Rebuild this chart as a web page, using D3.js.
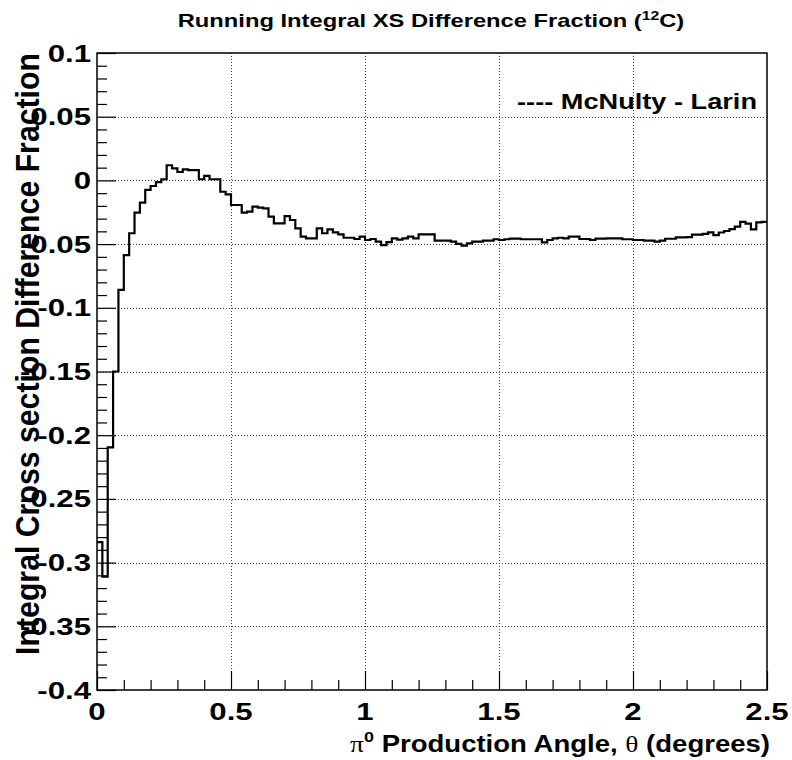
<!DOCTYPE html>
<html><head><meta charset="utf-8">
<script src="https://cdn.jsdelivr.net/npm/d3@7"></script>
<style>
html,body{margin:0;padding:0;background:#fff;}
svg{display:block;font-family:"Liberation Sans",Arial,Helvetica,sans-serif;}
</style></head>
<body>
<script>
// ---- data ----
const binWidth = 0.02; // degrees per bin, bins start at 0
const diffFraction = [
 -0.284,-0.311,-0.2095,-0.150,-0.086,-0.0586,-0.0415,-0.0253,-0.0175,-0.0075,
 -0.0044,-0.0013,0.0009,0.0119,0.0095,0.0066,0.0087,0.0081,0.0081,0.0009,
 0.0035,0.0009,0.0009,-0.0089,-0.0109,-0.0193,-0.0193,-0.0253,-0.0245,-0.0206,
 -0.0214,-0.0219,-0.0285,-0.0337,-0.0337,-0.0280,-0.0311,-0.0376,-0.0442,-0.0455,
 -0.0455,-0.0376,-0.0415,-0.0384,-0.0408,-0.0423,-0.0450,-0.0450,-0.0460,-0.0442,
 -0.0468,-0.0460,-0.0481,-0.0508,-0.0485,-0.0455,-0.0465,-0.0455,-0.0442,-0.0455,
 -0.0423,-0.0423,-0.0423,-0.0473,-0.0473,-0.0473,-0.0481,-0.0499,-0.0512,-0.0494,
 -0.0481,-0.0481,-0.0473,-0.0473,-0.0462,-0.0468,-0.0462,-0.0457,-0.0457,-0.0462,
 -0.0462,-0.0462,-0.0462,-0.0486,-0.0468,-0.0455,-0.0450,-0.0455,-0.0442,-0.0442,
 -0.0460,-0.0460,-0.0468,-0.0457,-0.0457,-0.0455,-0.0455,-0.0455,-0.0462,-0.0462,
 -0.0468,-0.0468,-0.0473,-0.0473,-0.0481,-0.0472,-0.0458,-0.0458,-0.0447,-0.0447,
 -0.0445,-0.0425,-0.0425,-0.0419,-0.0408,-0.0429,-0.0409,-0.0397,-0.0382,-0.0363,
 -0.0326,-0.0340,-0.0384,-0.0330,-0.0326
];
const xTicks = [0, 0.5, 1, 1.5, 2, 2.5];
const xTickLabels = ["0", "0.5", "1", "1.5", "2", "2.5"];
const yTicks = [0.1, 0.05, 0, -0.05, -0.1, -0.15, -0.2, -0.25, -0.3, -0.35, -0.4];
const yTickLabels = ["0.1", "0.05", "0", "-0.05", "-0.1", "-0.15", "-0.2", "-0.25", "-0.3", "-0.35", "-0.4"];
const xMinorTicks = [0.1,0.2,0.3,0.4,0.6,0.7,0.8,0.9,1.1,1.2,1.3,1.4,1.6,1.7,1.8,1.9,2.1,2.2,2.3,2.4];
const yMinorTicks = [0.09,0.08,0.07,0.06,0.04,0.03,0.02,0.01,-0.01,-0.02,-0.03,-0.04,-0.06,-0.07,-0.08,-0.09,
 -0.11,-0.12,-0.13,-0.14,-0.16,-0.17,-0.18,-0.19,-0.21,-0.22,-0.23,-0.24,-0.26,-0.27,-0.28,-0.29,
 -0.31,-0.32,-0.33,-0.34,-0.36,-0.37,-0.38,-0.39];
const legendText = "---- McNulty - Larin";
const yTitleText = "Integral Cross section Difference Fraction";

// ---- layout ----
const W = 792, H = 760;
const L = 97, R = 767, T = 53, B = 690;
const LABEL_STRETCH = 1.3; // horizontal stretch of tick-label glyphs

const svg = d3.select("body").append("svg").attr("width", W).attr("height", H);
svg.append("rect").attr("width", W).attr("height", H).attr("fill", "#fff");

const x = d3.scaleLinear().domain([0, 2.5]).range([L, R]);
const y = d3.scaleLinear().domain([-0.4, 0.1]).range([B, T]);

// helper: place a text in a group at (ax, ay), horizontally scaled to a target width
function fitText(parent, ax, ay, anchor, targetW, build) {
  const g = parent.append("g");
  const t = g.append("text").attr("text-anchor", anchor);
  build(t);
  const w = t.node().getBBox().width;
  const s = targetW ? targetW / w : 1;
  g.attr("transform", `translate(${ax},${ay}) scale(${s},1)`);
  return g;
}

// grid
const grid = svg.append("g").attr("stroke", "#444").attr("stroke-width", 1).attr("stroke-dasharray", "1,2").attr("fill", "none");
xTicks.filter(v => v > 0 && v < 2.5).forEach(v => {
  grid.append("line").attr("x1", Math.round(x(v)) + 0.5).attr("x2", Math.round(x(v)) + 0.5).attr("y1", T).attr("y2", B);
});
yTicks.filter(v => v < 0.1 && v > -0.4).forEach(v => {
  grid.append("line").attr("y1", Math.round(y(v)) + 0.5).attr("y2", Math.round(y(v)) + 0.5).attr("x1", L).attr("x2", R);
});

// axes (tick marks only, labels drawn separately)
const axisStyle = g => {
  g.select(".domain").remove();
  g.selectAll("line").attr("stroke", "#000").attr("stroke-width", 1.2);
  g.selectAll("text").remove();
};
svg.append("g").attr("transform", `translate(0,${B})`)
  .call(d3.axisTop(x).tickValues(xTicks).tickSize(19)).call(axisStyle);
svg.append("g").attr("transform", `translate(0,${B})`)
  .call(d3.axisTop(x).tickValues(xMinorTicks).tickSize(10)).call(axisStyle);
svg.append("g").attr("transform", `translate(${L},0)`)
  .call(d3.axisRight(y).tickValues(yTicks).tickSize(19)).call(axisStyle);
svg.append("g").attr("transform", `translate(${L},0)`)
  .call(d3.axisRight(y).tickValues(yMinorTicks).tickSize(10)).call(axisStyle);

// tick labels
const labels = svg.append("g").attr("font-size", 24).attr("font-weight", "bold").attr("fill", "#000");
xTicks.forEach((v, i) => {
  labels.append("g").attr("transform", `translate(${x(v)},720) scale(${LABEL_STRETCH},1)`)
    .append("text").attr("text-anchor", "middle").text(xTickLabels[i]);
});
yTicks.forEach((v, i) => {
  labels.append("g").attr("transform", `translate(91,${y(v) + 8.5}) scale(${LABEL_STRETCH},1)`)
    .append("text").attr("text-anchor", "end").text(yTickLabels[i]);
});

// frame
svg.append("rect").attr("x", L).attr("y", T).attr("width", R - L).attr("height", B - T)
  .attr("fill", "none").attr("stroke", "#000").attr("stroke-width", 1.5);

// histogram
const pts = diffFraction.map((v, i) => [i * binWidth, v]);
pts.push([diffFraction.length * binWidth, diffFraction[diffFraction.length - 1]]);
const line = d3.line().x(d => x(d[0])).y(d => y(d[1])).curve(d3.curveStepAfter);
svg.append("path").attr("d", line(pts)).attr("fill", "none").attr("stroke", "#000").attr("stroke-width", 2.2);

// title
fitText(svg, 431, 27, "middle", 507, t => {
  t.attr("font-size", 18).attr("font-weight", "bold");
  t.append("tspan").text("Running Integral XS Difference Fraction (");
  t.append("tspan").attr("font-size", 12).attr("dy", -7).text("12");
  t.append("tspan").attr("dy", 7).text("C)");
});

// legend
fitText(svg, 757, 109, "end", 240, t => {
  t.attr("font-size", 22.5).attr("font-weight", "bold").text(legendText);
});

// x title
fitText(svg, 770, 752, "end", 420, t => {
  t.attr("font-size", 23).attr("font-weight", "bold");
  t.append("tspan").attr("font-weight", "normal").attr("font-family", "Liberation Serif, serif").text("π");
  t.append("tspan").attr("font-size", 15).attr("dy", -10).text("0");
  t.append("tspan").attr("dy", 10).text(" Production Angle, ");
  t.append("tspan").attr("font-weight", "normal").attr("font-family", "Liberation Serif, serif").text("θ");
  t.append("tspan").text(" (degrees)");
});

// y title (rotated), length along the axis fitted, glyph height stretched
{
  const g = svg.append("g");
  const t = g.append("text").attr("text-anchor", "end").attr("font-size", 28).attr("font-weight", "bold").text(yTitleText);
  const w = t.node().getBBox().width;
  g.attr("transform", `translate(39,${T}) rotate(-90) scale(${602 / w},1.2)`);
}
</script>
</body></html>
